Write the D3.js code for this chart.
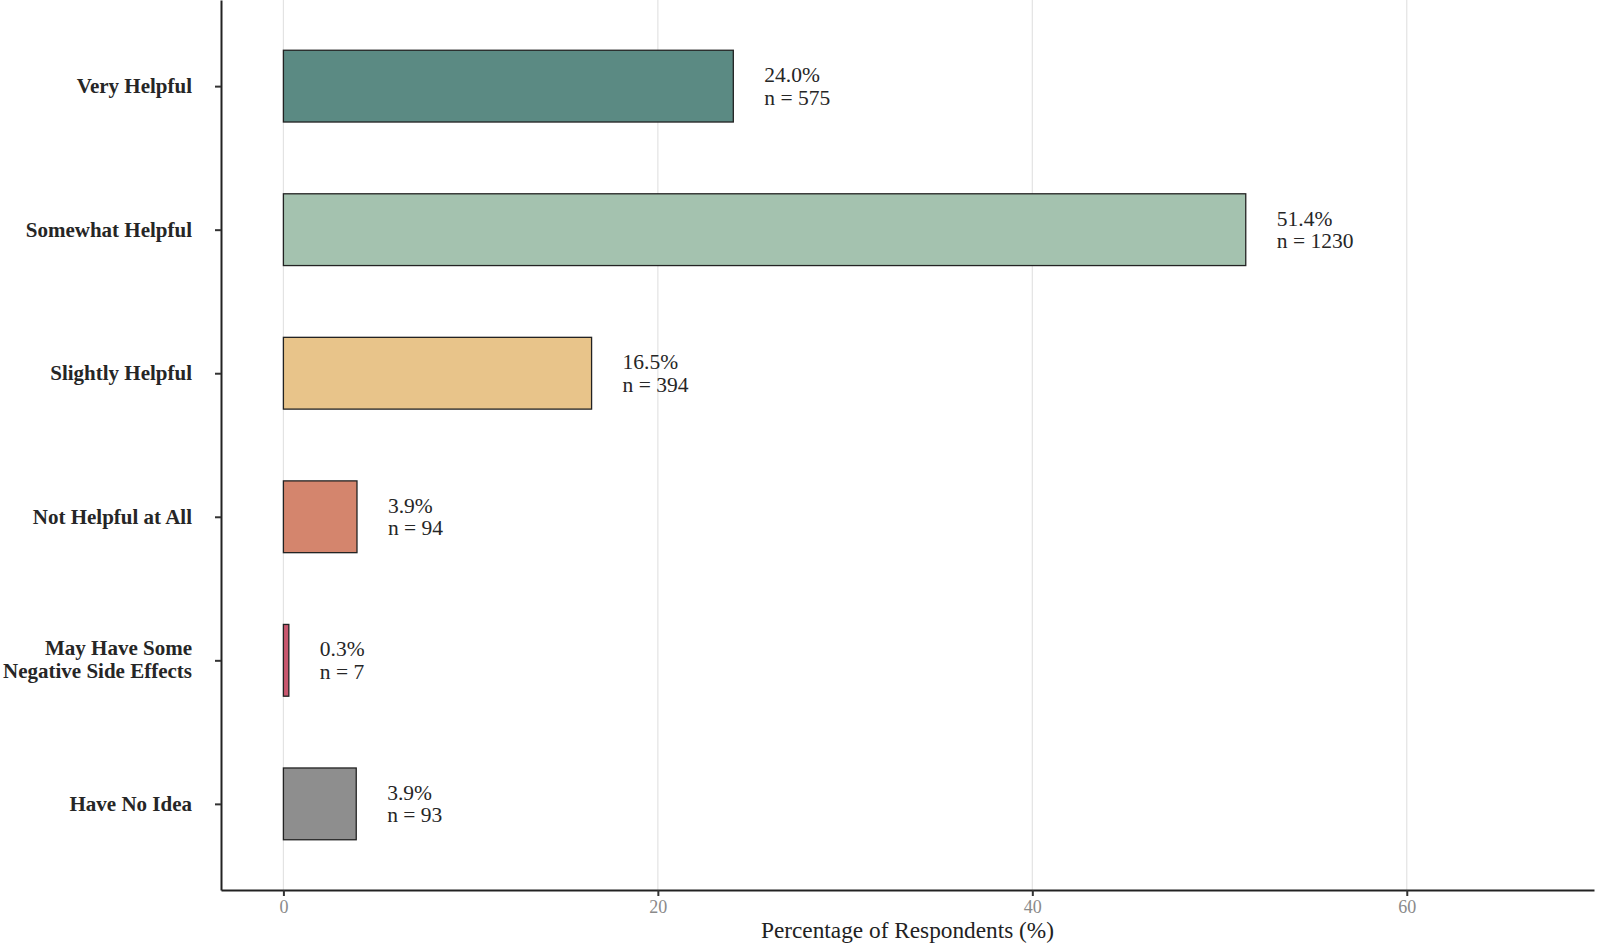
<!DOCTYPE html>
<html>
<head>
<meta charset="utf-8">
<script src="https://cdn.jsdelivr.net/npm/d3@7"></script>
<style>
  html, body { margin: 0; padding: 0; background: #fff; }
  svg { display: block; }
</style>
</head>
<body>
<svg id="chart" width="1600" height="944"></svg>
<script>
const categories = [
  ["Very Helpful"],
  ["Somewhat Helpful"],
  ["Slightly Helpful"],
  ["Not Helpful at All"],
  ["May Have Some", "Negative Side Effects"],
  ["Have No Idea"]
];
const percentages = [24.03, 51.40, 16.46, 3.93, 0.29, 3.89];
const counts = [575, 1230, 394, 94, 7, 93];
const colors = ["#5b8a83", "#a4c2af", "#e8c48a", "#d4856d", "#c9586f", "#8e8e8e"];
const xTicks = [0, 20, 40, 60];
const xTitle = "Percentage of Respondents (%)";

(function () {
const svg = d3.select("#chart");
const pLeft = 221, pRight = 1594, pTop = 0, pBottom = 890;

const x = d3.scaleLinear().domain([-3.333, 70]).range([pLeft, pRight]);
const keys = categories.map((c, i) => i);
const y = d3.scalePoint().domain(keys).range([pTop, pBottom]).padding(0.6);
const step = y.step();
const barH = step * 0.5;

const serif = "'Liberation Serif', 'Times New Roman', Times, serif";

// grid
svg.append("g").selectAll("line").data(xTicks).join("line")
  .attr("x1", d => x(d)).attr("x2", d => x(d))
  .attr("y1", pTop).attr("y2", pBottom)
  .attr("stroke", "#e3e3e3").attr("stroke-width", 1.2);

// bars
svg.append("g").selectAll("rect").data(keys).join("rect")
  .attr("x", x(0))
  .attr("y", i => y(i) - barH / 2)
  .attr("width", i => x(percentages[i]) - x(0))
  .attr("height", barH)
  .attr("fill", i => colors[i])
  .attr("stroke", "#222")
  .attr("stroke-width", 1.3);

// value labels
const vl = svg.append("g").selectAll("text").data(keys).join("text")
  .attr("font-family", serif).attr("font-size", 21.5).attr("fill", "#262626");
vl.append("tspan")
  .attr("x", i => x(percentages[i]) + 31)
  .attr("y", i => y(i) - 4)
  .text(i => percentages[i].toFixed(1) + "%");
vl.append("tspan")
  .attr("x", i => x(percentages[i]) + 31)
  .attr("y", i => y(i) + 18.6)
  .text(i => "n = " + counts[i]);

// x axis
const xAxis = d3.axisBottom(x).tickValues(xTicks).tickSize(6).tickPadding(4).tickSizeOuter(0);
const gx = svg.append("g").attr("transform", `translate(0,${pBottom})`).call(xAxis);
gx.select(".domain").attr("stroke", "#222").attr("stroke-width", 2);
gx.selectAll(".tick line").attr("stroke", "#333").attr("stroke-width", 2);
gx.selectAll(".tick text").attr("font-family", serif).attr("font-size", 18).attr("fill", "#8a8a8a");

// y axis
const yAxis = d3.axisLeft(y).tickSize(6).tickSizeOuter(0).tickFormat("");
const gy = svg.append("g").attr("transform", `translate(${pLeft},0)`).call(yAxis);
gy.select(".domain").attr("stroke", "#222").attr("stroke-width", 2);
gy.selectAll(".tick line").attr("stroke", "#333").attr("stroke-width", 2);

// category labels
const cl = svg.append("g").selectAll("text").data(keys).join("text")
  .attr("font-family", serif).attr("font-size", 21).attr("font-weight", "bold")
  .attr("fill", "#262626").attr("text-anchor", "end");
cl.each(function (i) {
  const lines = categories[i];
  const t = d3.select(this);
  const base = lines.length === 1 ? [7] : [-5, 18];
  lines.forEach((ln, k) => {
    t.append("tspan").attr("x", 192).attr("y", y(i) + base[k]).text(ln);
  });
});

// axis title
svg.append("text")
  .attr("x", (pLeft + pRight) / 2).attr("y", 938)
  .attr("text-anchor", "middle")
  .attr("font-family", serif).attr("font-size", 23.3).attr("fill", "#222")
  .text(xTitle);
})();
</script>
</body>
</html>
